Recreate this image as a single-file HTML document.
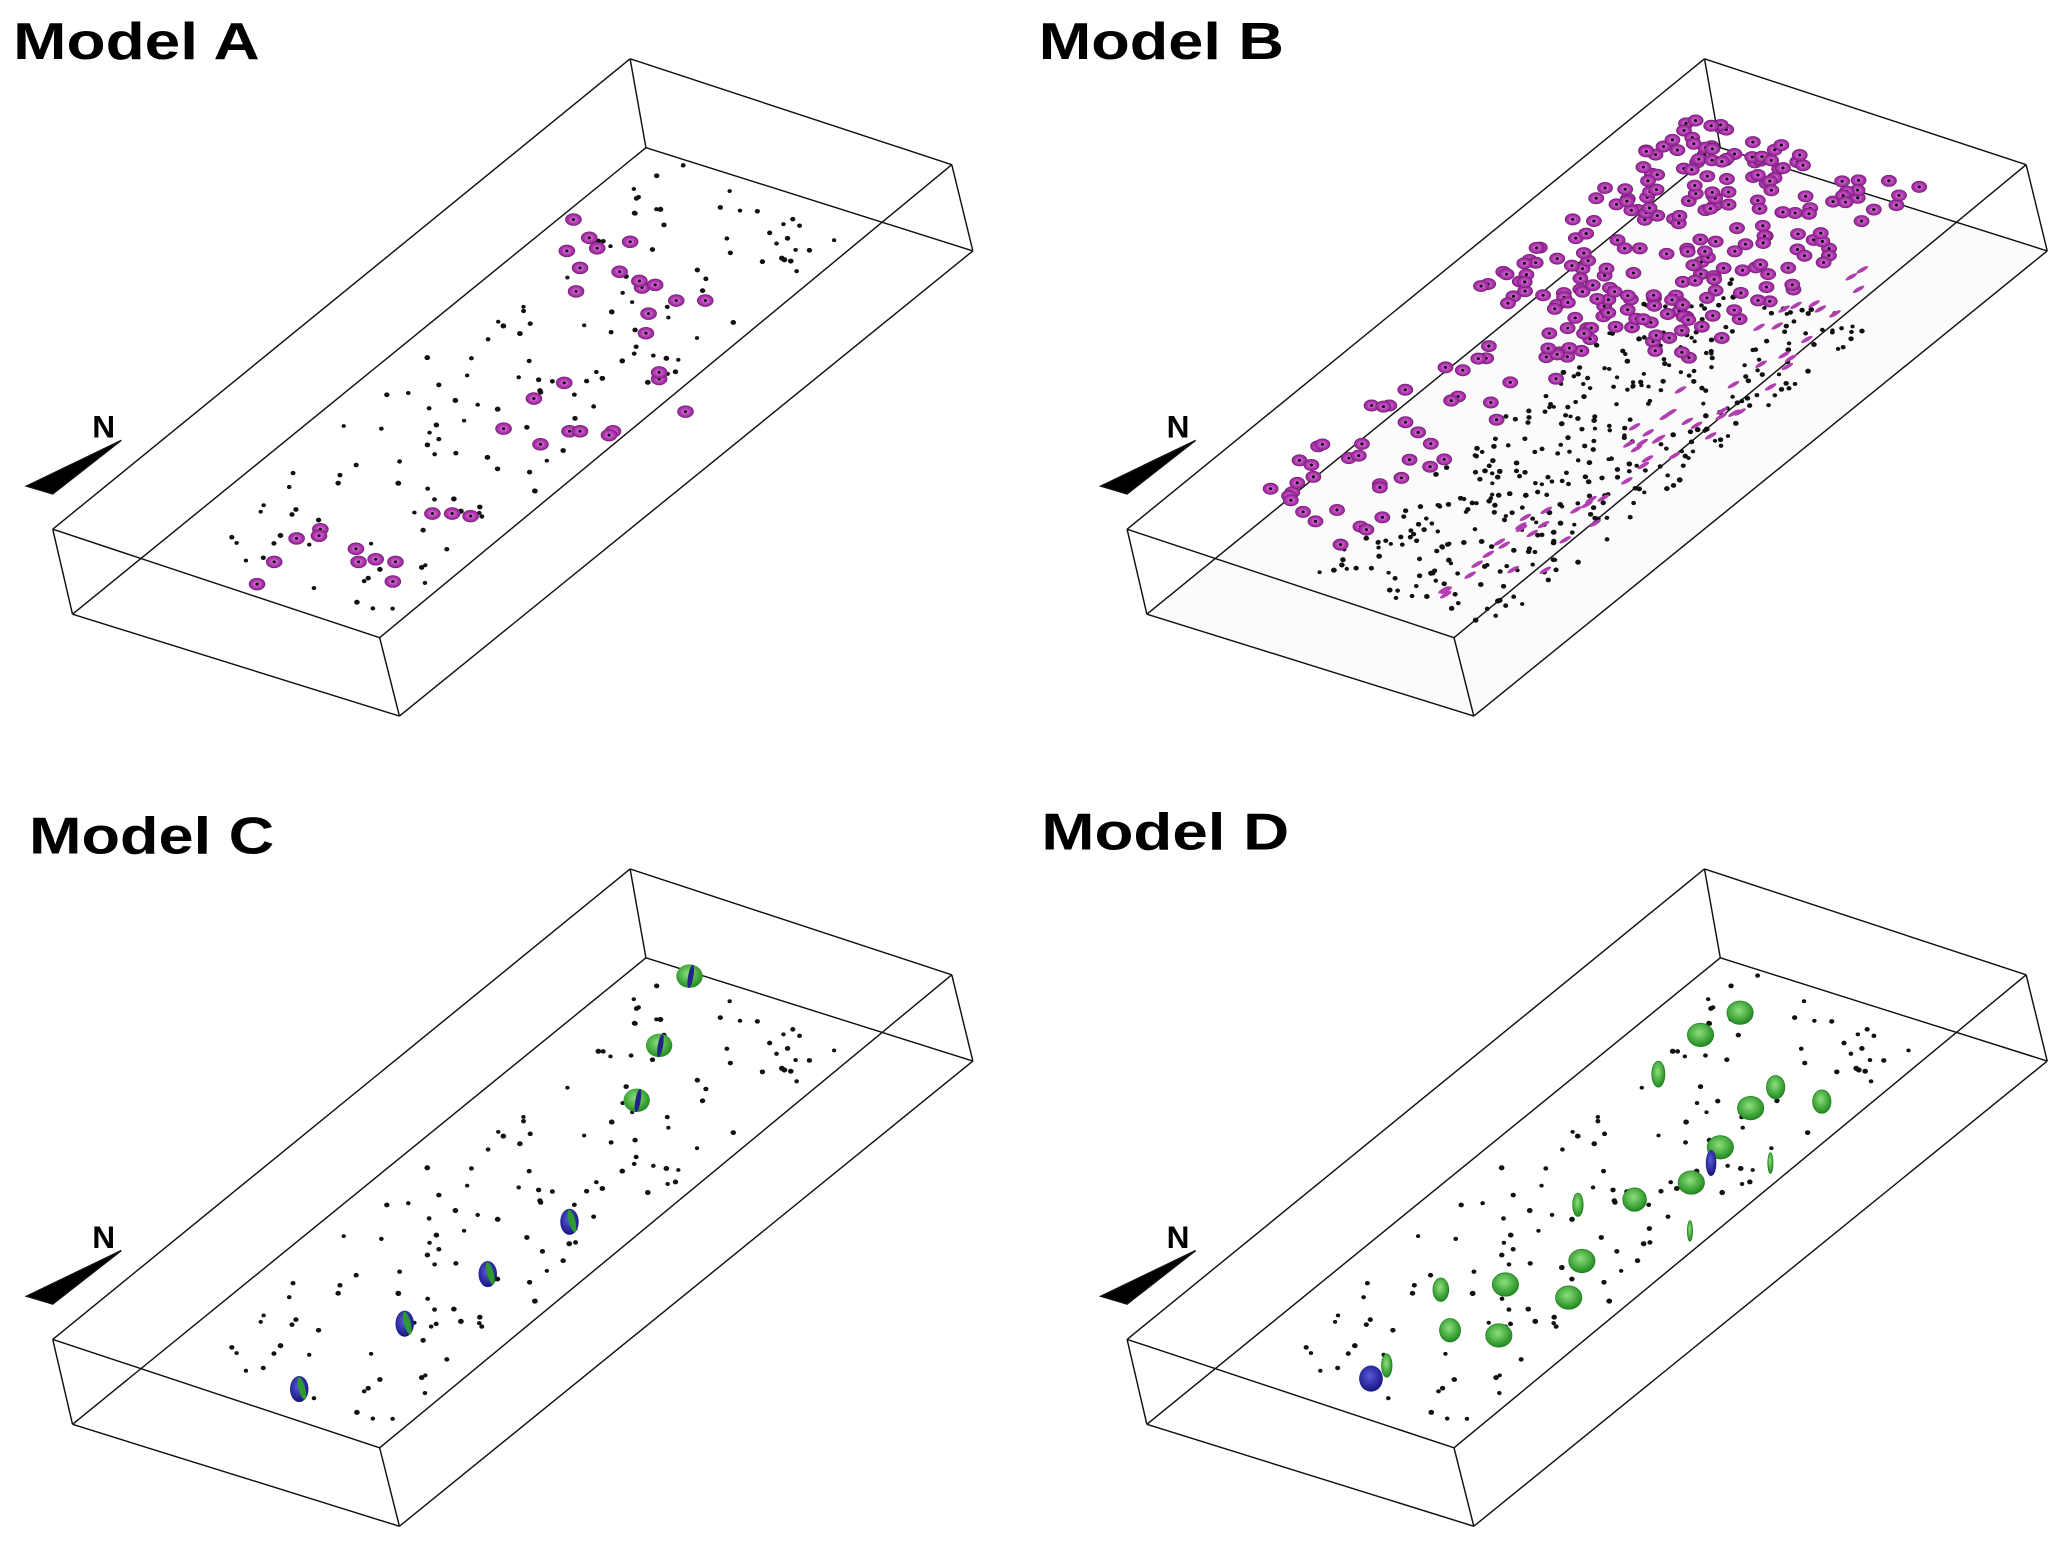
<!DOCTYPE html>
<html><head><meta charset="utf-8"><style>
html,body{margin:0;padding:0;background:#fff;}
svg{display:block;}
</style></head><body>
<svg id="s" width="2067" height="1555" viewBox="0 0 1568 1190" preserveAspectRatio="none" xmlns="http://www.w3.org/2000/svg">
<defs>
<radialGradient id="mg" cx="50%" cy="50%" r="50%"><stop offset="0" stop-color="#f0a0f0"/><stop offset="0.5" stop-color="#c040c0"/><stop offset="1" stop-color="#8a2a8a"/></radialGradient>
<radialGradient id="gg" cx="45%" cy="40%" r="60%"><stop offset="0" stop-color="#8de07a"/><stop offset="1" stop-color="#1f8a1f"/></radialGradient>
<radialGradient id="bg" cx="45%" cy="40%" r="60%"><stop offset="0" stop-color="#5a5ad8"/><stop offset="1" stop-color="#141480"/></radialGradient>
</defs>
<g font-family="Liberation Sans, sans-serif" font-weight="bold" fill="#000">
<text x="10" y="45" font-size="40" textLength="187" lengthAdjust="spacingAndGlyphs">Model A</text>
<text x="788" y="45" font-size="40" textLength="186" lengthAdjust="spacingAndGlyphs">Model B</text>
<text x="22" y="653" font-size="40" textLength="186" lengthAdjust="spacingAndGlyphs">Model C</text>
<text x="790" y="650" font-size="40" textLength="188" lengthAdjust="spacingAndGlyphs">Model D</text>
</g>
<g id="boxes" fill="none" stroke="#111" stroke-width="1.1"></g>
<g id="pts"></g>
</svg>
<script>
var B=document.getElementById('boxes'),P=document.getElementById('pts');
var NS='http://www.w3.org/2000/svg';
function el(t,a,p){var e=document.createElementNS(NS,t);for(var k in a)e.setAttribute(k,a[k]);(p||P).appendChild(e);return e;}
var seed=7;function r(){seed=(seed*16807)%2147483647;return (seed-1)/2147483646;}
function box(dx,dy,shade){
 var A=[478+dx,45+dy],R=[722+dx,126+dy],RB=[738+dx,192+dy],I=[490+dx,113+dy],L=[40+dx,405+dy],LB=[55+dx,470+dy],F=[288+dx,488+dy],FB=[303+dx,548+dy];
 if(shade){el('polygon',{points:[I,RB,FB,LB].join(' '),fill:'#fbfbfb',stroke:'none'},B);}
 var segs=[[A,R],[R,RB],[RB,FB],[FB,LB],[LB,L],[L,A],[L,F],[F,R],[F,FB],[I,A],[I,RB],[I,LB]];
 segs.forEach(function(s){el('line',{x1:s[0][0],y1:s[0][1],x2:s[1][0],y2:s[1][1]},B);});
 el('polygon',{points:(20+dx)+','+(372+dy)+' '+(92+dx)+','+(337+dy)+' '+(40+dx)+','+(378+dy),fill:'#000'},B);
 el('text',{x:70+dx,y:335+dy,'font-family':'Liberation Sans, sans-serif','font-weight':'bold','font-size':'24',fill:'#000',stroke:'none'},B).textContent='N';
}
box(0,0);box(815,0,true);box(0,620);box(815,620);
function dot(x,y,s){el('ellipse',{cx:x,cy:y,rx:s||1.6,ry:(s||1.6)*0.9,fill:'#111'});}
function scatter(dx,dy,n,u0,u1,v0,v1,oy){
 for(var i=0;i<n;i++){var u=u0+(u1-u0)*r(),v=v0+(v1-v0)*r();
  var x=40+438*u+248*v+dx,y=405-360*u+83*v+dy+(oy||30);dot(x,y,1.6+r()*0.6);}
}
function mag(x,y,s){s=s||1;el('ellipse',{cx:x,cy:y,rx:6*s,ry:4.5*s,fill:'url(#mg)',stroke:'#7a207a','stroke-width':0.6});dot(x,y,1.3);}
// Model A
scatter(0,0,150,0.1,0.93,0.25,0.85);
[[435,168],[447,182],[430,192],[440,205],[437,223],[453,190],[478,185],[470,208],[487,220],[497,218],[513,230],[535,230],[485,215],[490,255],[500,290],[520,315],[465,330],[432,330],[405,305],[382,328],[410,340],[428,293],[343,393],[328,393],[357,395],[195,447],[208,430],[225,412],[243,405],[242,410],[270,420],[272,430],[285,428],[300,430],[298,445],[440,330],[462,333],[500,285],[492,240]].forEach(function(p){mag(p[0],p[1]);});
// Model B
seed=11;
scatter(815,0,380,0.1,0.75,0.4,0.95,35);
for(var i=0;i<230;i++){var u=0.6+0.38*r(),v=0.1+0.7*r();var x=855+438*u+248*v-25,y=405-360*u+83*v+25;mag(x,y,0.95);}
for(var i=0;i<60;i++){var u=0.12+0.5*r(),v=0.1+0.35*r();var x=855+438*u+248*v,y=405-360*u+83*v+25;mag(x,y,0.95);}
for(var i=0;i<60;i++){var u=0.1+0.7*r(),v=0.75+0.2*r();var x=855+438*u+248*v,y=405-360*u+83*v+20;el('ellipse',{cx:x,cy:y,rx:5,ry:1.5,fill:'#b040b0',transform:'rotate(-30 '+x+' '+y+')'});}
// Model C
seed=7;
scatter(0,620,150,0.1,0.93,0.25,0.85);
function sph(x,y,blue){
 if(blue){el('ellipse',{cx:x,cy:y,rx:7,ry:10,fill:'url(#bg)'});el('ellipse',{cx:x+2,cy:y,rx:2.5,ry:9,fill:'#2c9a2c',transform:'rotate(-15 '+x+' '+y+')'});}
 else{el('ellipse',{cx:x,cy:y,rx:10,ry:9,fill:'url(#gg)'});el('ellipse',{cx:x+1,cy:y,rx:2,ry:9,fill:'#22228a',transform:'rotate(10 '+x+' '+y+')'});}
}
sph(523,747);sph(500,800);sph(483,842);sph(432,935,1);sph(370,975,1);sph(307,1013,1);sph(227,1063,1);
// Model D
seed=7;
scatter(815,620,150,0.1,0.93,0.25,0.85);
[[1320,775,10,9],[1290,792,10,9],[1258,822,5,10],[1347,832,7,9],[1382,843,7,9],[1328,848,10,9],[1305,878,10,9],[1283,905,10,9],[1240,918,9,9],[1197,922,4,9],[1200,965,10,9],[1142,983,10,9],[1190,993,10,9],[1093,987,6,9],[1100,1018,8,9],[1137,1022,10,9],[1052,1045,4,9],[1343,890,2,8],[1282,942,2,8]].forEach(function(p){el('ellipse',{cx:p[0],cy:p[1],rx:p[2],ry:p[3],fill:'url(#gg)',stroke:'#1a7a1a','stroke-width':0.5});});
el('ellipse',{cx:1040,cy:1055,rx:9,ry:10,fill:'url(#bg)'});
el('ellipse',{cx:1298,cy:890,rx:4,ry:10,fill:'url(#bg)'});
</script>
</body></html>
